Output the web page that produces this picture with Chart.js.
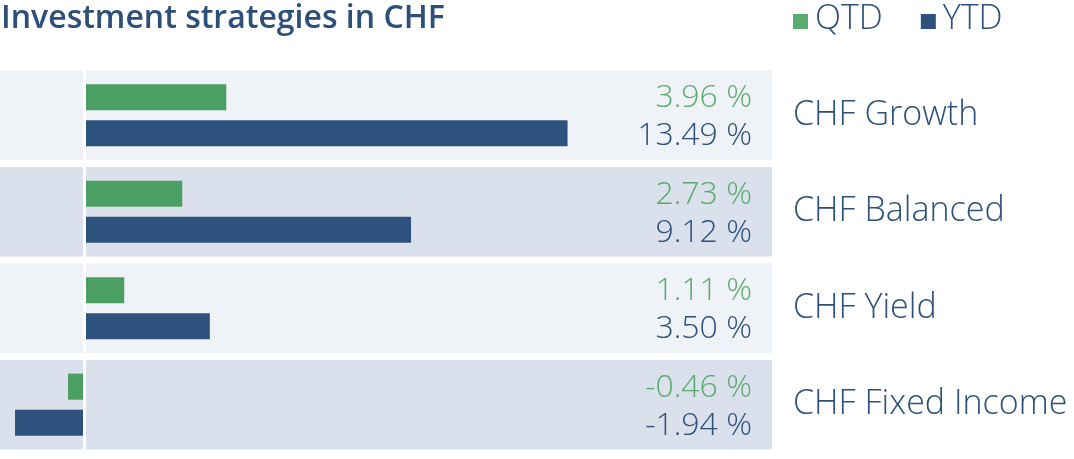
<!DOCTYPE html>
<html>
<head>
<meta charset="utf-8">
<script src="https://cdn.jsdelivr.net/npm/chart.js@4.4.0/dist/chart.umd.min.js"></script>
<style>
html,body{margin:0;padding:0;background:#fff;}
#wrap{width:1074px;height:459px;position:relative;}
</style>
</head>
<body>
<div id="wrap"><canvas id="chart"></canvas></div>
<script>
const title = "Investment strategies in CHF";
const categories = ["CHF Growth", "CHF Balanced", "CHF Yield", "CHF Fixed Income"];
const seriesNames = ["QTD", "YTD"];
const qtd = [3.96, 2.73, 1.11, -0.46];
const ytd = [13.49, 9.12, 3.50, -1.94];

const navy = '#2c5079';
const greenText = '#5aab6e';
const font = '"Open Sans"';

function fmt(v){
    return v.toFixed(2) + ' %';
}

// row backgrounds behind the bars
const bands = {
    id: 'bands',
    beforeDatasetsDraw(chart){
        const {ctx, chartArea, scales: {y}} = chart;
        const half = y.height / categories.length / 2 - 3.5;
        ctx.save();
        categories.forEach((c, i) => {
            const yc = y.getPixelForValue(i);
            ctx.fillStyle = i % 2 == 0 ? '#eff3f8' : '#dae0ec';
            ctx.fillRect(chartArea.left, yc - half, chartArea.width, half * 2);
        });
        ctx.restore();
    },
    afterDatasetsDraw(chart){
        const {ctx, chartArea, scales: {x}} = chart;
        ctx.save();
        // white zero line
        const x0 = x.getPixelForValue(0);
        ctx.strokeStyle = '#ffffff';
        ctx.lineWidth = 3;
        ctx.beginPath();
        ctx.moveTo(x0, chartArea.top);
        ctx.lineTo(x0, chartArea.bottom);
        ctx.stroke();
        // value labels on the right side of each row
        ctx.font = '300 32px ' + font;
        ctx.textAlign = 'right';
        ctx.textBaseline = 'middle';
        chart.data.datasets.forEach((ds, di) => {
            const meta = chart.getDatasetMeta(di);
            ctx.fillStyle = di == 0 ? greenText : navy;
            meta.data.forEach((bar, i) => {
                ctx.fillText(fmt(ds.data[i]), chartArea.right - 20, bar.y + (di == 0 ? 1 : 3));
            });
        });
        ctx.restore();
    },
    afterDraw(chart){
        const {ctx} = chart;
        ctx.save();
        ctx.textBaseline = 'alphabetic';
        ctx.textAlign = 'left';
        ctx.fillStyle = navy;
        ctx.font = '600 32px ' + font;
        ctx.fillText(title, 1, 28);
        // legend
        ctx.font = '300 34px ' + font;
        let lx = 793;
        chart.data.datasets.forEach((ds, di) => {
            ctx.fillStyle = di == 0 ? greenText : ds.backgroundColor;
            ctx.fillRect(lx, 14, 15, 15);
            ctx.fillStyle = navy;
            ctx.fillText(ds.label, lx + 22, 29);
            lx += 22 + ctx.measureText(ds.label).width + 38;
        });
        ctx.restore();
    }
};

let cxt = document.getElementById('chart');
new Chart(cxt, {
    type: 'bar',
    data: {
        labels: categories,
        datasets: [
            {
                label: seriesNames[0],
                data: qtd,
                backgroundColor: '#4c9f63',
                categoryPercentage: 0.75,
                barPercentage: 0.72
            },
            {
                label: seriesNames[1],
                data: ytd,
                backgroundColor: '#2c527d',
                categoryPercentage: 0.75,
                barPercentage: 0.72
            }
        ]
    },
    options: {
        indexAxis: 'y',
        responsive: true,
        maintainAspectRatio: false,
        animation: false,
        devicePixelRatio: 1,
        layout: {
            padding: {top: 67, bottom: 6, left: 0, right: 0}
        },
        plugins: {
            legend: {display: false},
            title: {display: false},
            tooltip: {enabled: false}
        },
        scales: {
            x: {
                display: false,
                min: -2.36,
                max: 19.2
            },
            y: {
                position: 'right',
                grid: {display: false, drawTicks: false},
                border: {display: false},
                ticks: {
                    color: navy,
                    padding: 21,
                    font: {family: 'Open Sans', size: 34, weight: '300'}
                },
                afterFit(scale){
                    scale.width = 302;
                    scale.paddingTop = 0;
                    scale.paddingBottom = 0;
                }
            }
        }
    },
    plugins: [bands]
});
</script>
</body>
</html>
